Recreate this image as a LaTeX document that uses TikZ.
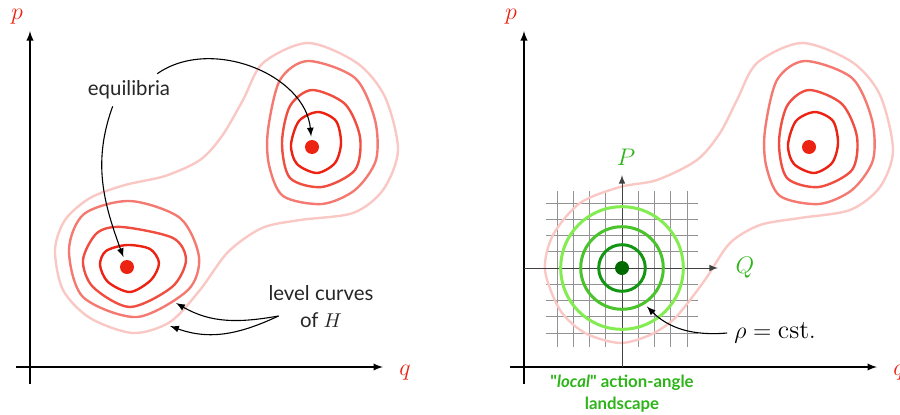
\documentclass[tikz,border=0pt]{standalone}
\usepackage{fontspec}
\newfontfamily\latofont{Lato}
\usetikzlibrary{positioning}

\definecolor{hred}{RGB}{236,34,18}
\definecolor{hgreen}{RGB}{45,180,25}
\definecolor{gInner}{RGB}{20,150,20}
\definecolor{gMid}{RGB}{75,195,45}
\definecolor{gOuter}{RGB}{130,236,80}
\definecolor{gDot}{RGB}{0,105,0}

\tikzset{
  axis/.style={->, >=latex, line width=0.65pt},
  lvl/.style={line width=1.2pt, draw=hred!#1},
  eqdot/.style={circle, fill=hred, inner sep=0pt, minimum size=7pt},
  note/.style={font=\latofont\fontsize{10.2}{13.5}\selectfont, text=black!85},
  mlabel/.style={font=\fontsize{13}{15}\selectfont},
  pointer/.style={->, >=latex, line width=0.55pt, shorten >=1.5pt},
  ring/.style={circle, inner sep=0pt, line width=1.5pt},
  gridline/.style={gray!85, line width=0.5pt},
  locax/.style={->, >=latex, black!75, line width=0.5pt},
}

\begin{document}
\begin{tikzpicture}[x=0.5pt, y=0.5pt]
\useasboundingbox (0,0) rectangle (900,414);

% ---------- left: level curves of H ----------
\draw[lvl=25] plot[smooth cycle] coordinates {(308,371) (357,351) (385,317) (398,264) (383,224) (353,201) (300,194) (262,186) (228,162) (200,124) (170,92) (133,81) (90,96) (63,124) (55,164) (65,194) (90,216) (125,229) (165,238) (200,254) (222,278) (243,314) (263,351)};
\draw[lvl=60] plot[smooth cycle] coordinates {(69,164) (84,200) (130,213) (180,196) (199,157) (188,124) (137,97) (83,117)};
\draw[lvl=80] plot[smooth cycle] coordinates {(83,154) (97,181) (122,187) (173,176) (186,154) (172,127) (130,107) (93,127)};
\draw[lvl=100] plot[smooth cycle] coordinates {(100,149) (106,163) (127,169) (150,165) (159,151) (151,134) (130,122) (108,132)};
\node[eqdot] (eqA) at (127,147) {};

% upper well, same in both panels
\foreach \dx in {0,497} {
  \begin{scope}[shift={(\dx,0)}]
    \draw[lvl=60] plot[smooth cycle] coordinates {(268,284) (280,334) (308,353) (355,336) (375,294) (376,254) (355,224) (322,210) (283,218) (269,249)};
    \draw[lvl=80] plot[smooth cycle] coordinates {(282,271) (290,308) (312,324) (345,310) (360,277) (355,244) (322,227) (290,236)};
    \draw[lvl=100] plot[smooth cycle] coordinates {(291,269) (299,293) (318,302) (336,293) (341,271) (335,251) (317,241) (297,250)};
    \node[eqdot] (eqB\dx) at (312,267) {};
  \end{scope}
}

\draw[axis] (30,30) -- (30,383);
\draw[axis] (16,47) -- (383,47);
\node[text=hred, mlabel] (pL) at (17,397) {$p$};
\node[text=hred, mlabel] (qL) at (405,41) {$q$};

\node[note] (eq) at (129,324) {equilibria};
\draw[pointer] (eq.30) to[out=35, in=95] (eqB0);
\draw[pointer] (eq.-135) to[out=-110, in=110] (eqA);

\node[note, align=center] (lc) at (321,107) {level curves\\of $H$};
\coordinate (lcfoot) at ([shift={(17,-9)}]lc.west);
\coordinate (onMid) at (176,111);
\coordinate (onOut) at (170,88);
\draw[pointer, shorten >=0pt] (lcfoot) to[out=190, in=-30] (onMid);
\draw[pointer, shorten >=0pt] (lcfoot) to[out=205, in=-20] (onOut);

% ---------- right: local action-angle picture ----------
\foreach \k in {-4,-3,-2,-1,1,2,3,4} {
  \draw[gridline] ({622+16.25*\k},67) -- ({622+16.25*\k},223);
  \draw[gridline] (546,{146+16.25*\k}) -- (698,{146+16.25*\k});
}
\draw[lvl=25] plot[smooth cycle] coordinates {(802,371) (852,352) (880,319) (893,264) (880,227) (850,204) (800,196) (760,189) (730,171) (707,137) (690,114) (673,94) (650,79) (620,71) (585,81) (560,104) (545,144) (553,179) (580,211) (620,227) (657,234) (697,254) (720,281) (737,314) (757,351)};

\draw[axis] (524,30) -- (524,383);
\draw[axis] (510,47) -- (877,47);
\node[text=hred, mlabel] (pR) at (511,397) {$p$};
\node[text=hred, mlabel] (qR) at (899,41) {$q$};

\draw[locax] (622,47) -- (622,239);
\draw[locax] (524,146) -- (718,146);
\node[text=hgreen, mlabel] (P) at (626,257) {$P$};
\node[text=hgreen, mlabel] (Q) at (745,146) {$Q$};

\node[ring, draw=gOuter, minimum size=61.3pt] (rOut) at (622,146) {};
\node[ring, draw=gMid, minimum size=41.3pt] (rMid) at (622,146) {};
\node[ring, draw=gInner, minimum size=23.3pt] (rIn) at (622,146) {};
\node[circle, fill=gDot, inner sep=0pt, minimum size=7pt] (eqC) at (622,146) {};

\node[mlabel] (rho) at (775,81) {$\rho = \mathrm{cst.}$};
\draw[pointer] (rho.west) to[out=185, in=-45] (rMid.-58);

\node[font=\latofont\bfseries\fontsize{8.4}{11}\selectfont, text=hgreen, align=center] (aal) at (622,20) {"\textit{local}" action-angle\\landscape};

\end{tikzpicture}
\end{document}
